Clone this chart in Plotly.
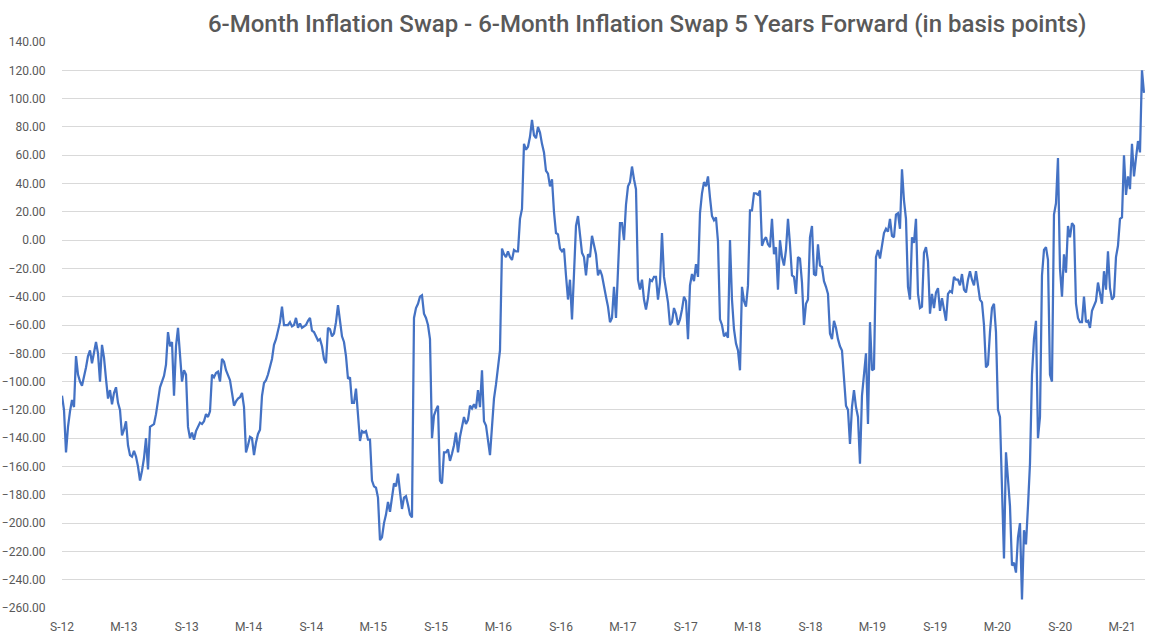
import plotly.graph_objects as go
import pandas as pd

# ---- data ----
start_date = "2012-09-01"
end_date = "2021-05-04"

part_a = [-110, -120, -150, -132, -121, -113, -118, -82, -95, -100,
          -103, -97, -90, -82, -78, -87, -80, -72, -80, -100,
          -74, -83, -98, -112, -106, -116, -108, -104, -115, -120,
          -138, -134, -128, -145, -152, -153, -149, -153, -160, -170,
          -163, -154, -140, -162, -132, -131, -130, -123, -112, -104]
part_b = [-100, -96, -88, -65, -75, -72, -110, -75, -62, -80,
          -100, -92, -95, -132, -140, -136, -141, -135, -132, -129,
          -130, -128, -123, -125, -121, -95, -97, -94, -93, -100,
          -84, -86, -92, -95, -99, -108, -117, -114, -112, -111,
          -108, -118, -150, -145, -139, -140, -152, -143, -137, -134,
          -110, -101, -99, -95, -90, -84, -74, -70, -64, -58,
          -47, -60, -60, -60]
part_c = [-58, -61, -60, -55, -62, -59, -62, -61, -60, -57,
          -55, -64, -65, -68, -71, -70, -75, -84, -87, -62,
          -63, -68, -66, -58, -46, -57, -68, -72, -82, -98,
          -97, -115, -115, -105, -124, -142, -135, -136, -135, -141,
          -141, -170, -174, -175, -182, -212, -210, -200, -194, -185,
          -192]
part_d = [-180, -172, -174, -165, -178, -190, -182, -181, -187, -194,
          -196, -55, -48, -45, -40, -39, -52, -55, -60, -70,
          -140, -124, -120, -117, -170, -172, -150, -150, -148, -156,
          -151, -145, -136, -150, -139, -131, -125, -130, -127, -117,
          -119, -116, -119, -106, -118, -92, -128, -131, -140, -152,
          -132, -112, -102, -88, -78, -6, -10, -12, -8, -12,
          -14, -7, -8, -8, 15]
part_e = [22, 68, 64, 66, 73, 85, 74, 72, 80, 76,
          68, 62, 49, 47, 38, 43, 20, 5, 4, -6,
          -8, -6, -25, -42, -28, -56, -24, 10, 17, 5,
          -9, -12, -25, -10, -12, 3, -3, -10, -25, -21,
          -25, -34, -40, -47, -58, -55, -33, -55, -18, 12,
          12, 0, 25, 38, 41, 52, 43, 36, -28]
part_f = [-35, -28, -42, -49, -41, -28, -29, -26, -26, -42,
          -30, 5, -26, -35, -44, -60, -58, -48, -52, -60,
          -56, -49, -40, -43, -70, -32, -24, -29, -17, -26,
          19, 33, 41, 38, 45, 30, 17, 14, 16, -1,
          -56, -60, -68, -66, -69, 0, -42, -63, -73, -78,
          -92, -33, -43, -47, -32, 21]
part_g = [21, 33, 33, 32, 35, -4, 0, 2, -3, -5,
          15, -10, -5, -35, 0, -12, -18, -7, 15, -3,
          -25, -26, -38, -12, -13, -30, -60, -45, -42, 2,
          10, -24, -25, -3, -18, -19, -29, -33, -38, -66,
          -70, -57, -62, -70, -75, -78, -102, -117, -120, -144,
          -118, -106, -118, -125, -158, -110, -95, -80, -130, -58,
          -92, -91, -12, -7]
part_h = [-13, -5, 5, 8, 6, 15, 3, 2, 18, 19,
          8, 50, 28, 15, -33, -42, 2, -2, 15, -38,
          -48, -47, -9, -5, -15, -52, -38, -48, -37, -34,
          -50, -41, -48, -57, -38, -36, -37, -26, -28, -28,
          -32, -24, -35, -37, -28, -22, -28, -32, -22, -33,
          -42, -44, -60, -90, -88, -65, -48, -45, -65]
part_i = [-120, -125, -175, -225, -150, -170, -188, -230, -228, -235,
          -210, -200, -254, -205, -215, -188, -158, -95, -70, -57,
          -140, -125, -25, -7, -5, -14, -95, -100, 18, 26,
          58, -20, -40, -10, -23, 10]
part_j = [2, 12, 10, -45, -55, -58, -58, -40, -58, -57,
          -62, -50, -47, -43, -30, -38, -45, -22, -35, -8,
          -34, -42, -40, -12, -4, 15, 16, 60, 32, 45,
          36, 68, 45, 58, 70, 62, 120, 104]

tick_dates = ["2012-09-01", "2013-03-01", "2013-09-01", "2014-03-01", "2014-09-01",
              "2015-03-01", "2015-09-01", "2016-03-01", "2016-09-01", "2017-03-01",
              "2017-09-01", "2018-03-01", "2018-09-01", "2019-03-01", "2019-09-01",
              "2020-03-01", "2020-09-01", "2021-03-01"]
tick_labels = ["S-12", "M-13", "S-13", "M-14", "S-14", "M-15", "S-15", "M-16", "S-16",
               "M-17", "S-17", "M-18", "S-18", "M-19", "S-19", "M-20", "S-20", "M-21"]

title_text = "6-Month Inflation Swap - 6-Month Inflation Swap 5 Years Forward (in basis points)"

# ---- build figure ----
values = part_a + part_b + part_c + part_d + part_e + part_f + part_g + part_h + part_i + part_j
dates = pd.date_range(start_date, end_date, periods=len(values))

fig = go.Figure()
fig.add_trace(go.Scatter(x=dates, y=values, mode="lines",
                         line=dict(color="#4472C4", width=2.25),
                         hoverinfo="x+y"))

grey = "#595959"
fig.update_layout(
    template="none",
    width=1162, height=634,
    margin=dict(l=62, r=17, t=42, b=26),
    paper_bgcolor="white", plot_bgcolor="white",
    showlegend=False,
    font=dict(family="Roboto", color=grey, size=12),
    title=dict(text=title_text, xref="container", yref="container",
               x=0.557, xanchor="center", y=0.963, yanchor="middle",
               font=dict(family="Roboto", size=24, color=grey, weight=500)),
)
fig.update_yaxes(range=[-260, 140], tick0=0, dtick=20, tickformat=".2f",
                 showgrid=True, gridcolor="#d9d9d9", gridwidth=1,
                 zeroline=False, showline=False,
                 ticks="outside", ticklen=13, tickcolor="rgba(0,0,0,0)",
                 tickfont=dict(family="Roboto", size=12, color=grey),
                 automargin=False)
fig.update_xaxes(type="date", range=["2012-09-01", "2021-05-07"],
                 tickmode="array", tickvals=tick_dates, ticktext=tick_labels,
                 showgrid=False, zeroline=False, showline=False,
                 ticks="outside", ticklen=8, tickcolor="rgba(0,0,0,0)",
                 tickfont=dict(family="Roboto", size=12, color=grey),
                 automargin=False)

fig.write_html("out.html")
